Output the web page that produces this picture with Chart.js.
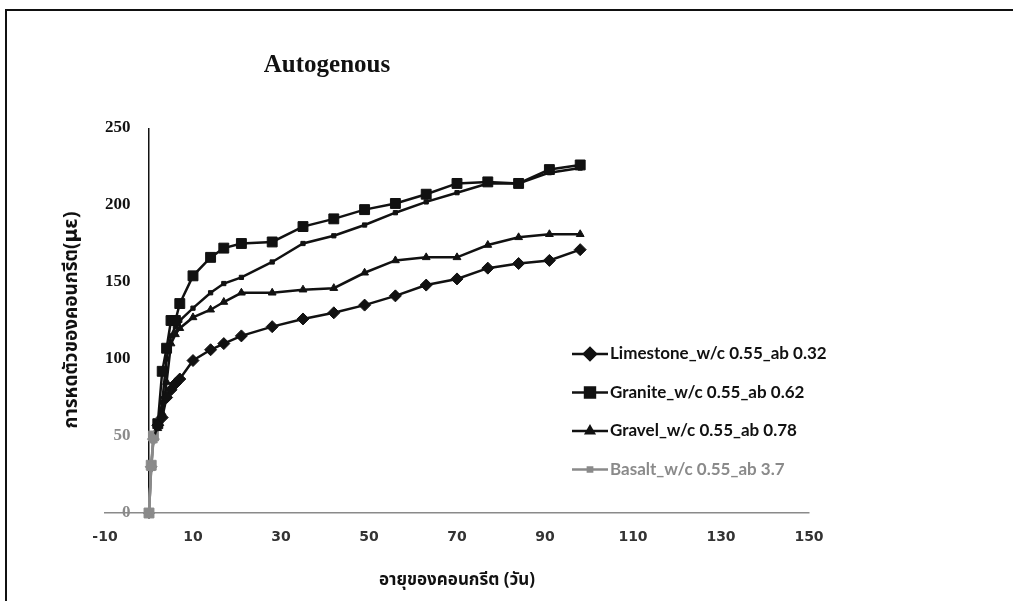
<!DOCTYPE html>
<html>
<head>
<meta charset="utf-8">
<script src="https://cdn.jsdelivr.net/npm/chart.js@4.4.1/dist/chart.umd.min.js"></script>
<style>
  html, body { margin: 0; padding: 0; background: #fff; }
  #wrap { position: relative; width: 1013px; height: 601px; overflow: hidden; }
  #c { position: absolute; left: 0; top: 0; }
  #frame { position: absolute; left: 5px; top: 9px; width: 1020px; height: 600px;
           border-left: 2px solid #111; border-top: 2px solid #111; pointer-events: none; }
</style>
</head>
<body>
<div id="wrap">
  <canvas id="c" width="1013" height="601"></canvas>
  <div id="frame"></div>
</div>
<script>
// Age of concrete (days) at each reading
const days      = [0, 0.5, 1, 2, 3, 4, 5, 6, 7, 10, 14, 17, 21, 28, 35, 42, 49, 56, 63, 70, 77, 84, 91, 98];
// Autogenous shrinkage (microstrain) per aggregate type
const limestone = [0, 30, 48, 57, 62, 75, 80, 84, 87, 99, 106, 110, 115, 121, 126, 130, 135, 141, 148, 152, 159, 162, 164, 171];
const granite   = [0, 31, 50, 58, 92, 107, 125, 125, 136, 154, 166, 172, 175, 176, 186, 191, 197, 201, 207, 214, 215, 214, 223, 226];
const gravel    = [0, 29, 47, 55, 65, 85, 110, 116, 120, 127, 132, 137, 143, 143, 145, 146, 156, 164, 166, 166, 174, 179, 181, 181];
const basalt    = [0, 30, 48, 56, 72, 100, 115, 121, 125, 133, 143, 149, 153, 163, 175, 180, 187, 195, 202, 208, 214, 214, 221, 224];

const seriesNames = [
  'Limestone_w/c 0.55_ab 0.32',
  'Granite_w/c 0.55_ab 0.62',
  'Gravel_w/c 0.55_ab 0.78',
  'Basalt_w/c 0.55_ab 3.7'
];
const xTicks = [-10, 10, 30, 50, 70, 90, 110, 130, 150];
const yTicks = [0, 50, 100, 150, 200, 250];

const chartTitle = 'Autogenous';
const xTitle = 'อายุของคอนกรีต (วัน)';
const yTitle = 'การหดตัวของคอนกรีต(με)';

const INK = '#111111';
const FADE = '#8a8a8a';
const FADE_BELOW = 55;   // lower part of the plot is printed faint
const THAI = '"Noto Sans Thai", "Tahoma", "DejaVu Sans", "Noto Sans", sans-serif';

function series(label, values, style, radius, legendColor) {
  return {
    label,
    data: days.map((d, i) => ({ x: d, y: values[i] })),
    borderColor: INK,
    backgroundColor: INK,
    borderWidth: 2.5,
    tension: 0,
    clip: false,
    pointStyle: style,
    pointRadius: radius,
    pointHoverRadius: radius,
    pointBorderWidth: 1,
    pointBackgroundColor: c => (c.raw && c.raw.y < FADE_BELOW ? FADE : INK),
    pointBorderColor: c => (c.raw && c.raw.y < FADE_BELOW ? FADE : INK),
    segment: { borderColor: c => (c.p1.parsed.y < FADE_BELOW ? FADE : INK) },
    legendColor
  };
}

const datasets = [
  series(seriesNames[0], limestone, 'rectRot', 6, INK),
  series(seriesNames[1], granite, 'rect', 7, INK),
  series(seriesNames[2], gravel, 'triangle', 4.5, INK),
  series(seriesNames[3], basalt, 'rect', 3, FADE)
];

// Title, rotated y-axis caption and the legend placed inside the plot
const captions = {
  id: 'captions',
  afterDraw(chart, args, o) {
    const ctx = chart.ctx;
    ctx.save();
    ctx.fillStyle = INK;
    ctx.textAlign = 'center';
    ctx.textBaseline = 'middle';
    ctx.font = 'bold 25px "Liberation Serif", "Times New Roman", serif';
    ctx.fillText(chartTitle, o.titleX, o.titleY);

    ctx.save();
    ctx.translate(o.yTitleX, o.yTitleY);
    ctx.rotate(-Math.PI / 2);
    ctx.font = 'bold 19px ' + THAI;
    ctx.fillText(yTitle, 0, 0);
    ctx.restore();

    chart.data.datasets.forEach((ds, i) => {
      const y = o.legendTop + i * o.legendGap;
      const col = ds.legendColor;
      ctx.strokeStyle = col;
      ctx.fillStyle = col;
      ctx.lineWidth = 2.5;
      ctx.beginPath();
      ctx.moveTo(o.legendLeft, y);
      ctx.lineTo(o.legendLeft + o.legendLine, y);
      ctx.stroke();
      Chart.helpers.drawPoint(ctx, {
        pointStyle: ds.pointStyle, radius: ds.pointRadius, borderWidth: 1, rotation: 0
      }, o.legendLeft + o.legendLine / 2, y);
      ctx.font = 'bold 17px "Lato", "Open Sans", sans-serif';
      ctx.textAlign = 'left';
      ctx.textBaseline = 'middle';
      ctx.fillText(ds.label, o.legendLeft + o.legendLine + 2, y);
    });
    ctx.restore();
  }
};

new Chart(document.getElementById('c'), {
  type: 'line',
  data: { datasets },
  plugins: [captions],
  options: {
    responsive: false,
    animation: false,
    events: [],
    layout: { padding: { left: 105, right: 204, top: 128, bottom: 8 } },
    plugins: {
      legend: { display: false },
      title: { display: false },
      tooltip: { enabled: false },
      captions: {
        titleX: 327, titleY: 66,
        yTitleX: 73, yTitleY: 320,
        legendLeft: 572, legendTop: 354, legendGap: 38.5, legendLine: 36
      }
    },
    scales: {
      x: {
        type: 'linear',
        min: -10,
        max: 150,
        afterBuildTicks: s => { s.ticks = [...xTicks, 0].sort((a, b) => a - b).map(v => ({ value: v })); },
        afterFit: s => { s.height = 80; s.paddingLeft = s.paddingRight = s.paddingTop = s.paddingBottom = 0; },
        grid: {
          display: true,
          drawTicks: false,
          lineWidth: 1.5,
          color: c => (c.tick && c.tick.value === 0 ? INK : 'rgba(0,0,0,0)')
        },
        border: { display: true, color: FADE, width: 1.5 },
        ticks: {
          padding: 16,
          color: '#333',
          font: { family: '"DejaVu Sans", sans-serif', size: 14, weight: 'bold' },
          callback: v => (v === 0 ? '' : String(v))
        },
        title: {
          display: true,
          text: xTitle,
          color: INK,
          font: { family: THAI, size: 17, weight: 'bold' },
          padding: { top: 0, bottom: 1 }
        }
      },
      y: {
        type: 'linear',
        position: 'left',
        min: 0,
        max: 250,
        afterBuildTicks: s => { s.ticks = yTicks.map(v => ({ value: v })); },
        afterFit: s => { s.width = 0; s.paddingLeft = s.paddingRight = s.paddingTop = s.paddingBottom = 0; },
        grid: { display: false, drawTicks: false },
        border: { display: false },
        ticks: {
          mirror: true,
          crossAlign: 'far',
          padding: 0,
          color: c => (c.tick.value <= 50 ? FADE : INK),
          font: { family: '"Liberation Serif", serif', size: 17, weight: 'bold' }
        }
      }
    }
  }
});
</script>
</body>
</html>
